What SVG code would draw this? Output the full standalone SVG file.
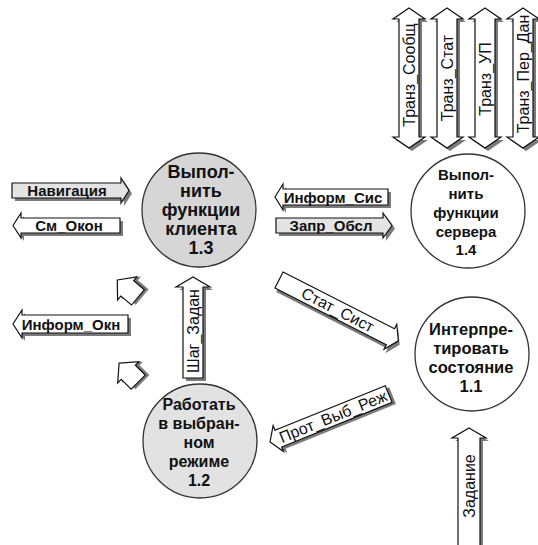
<svg xmlns="http://www.w3.org/2000/svg" xmlns:xlink="http://www.w3.org/1999/xlink" width="538" height="545" viewBox="0 0 538 545">
<style>
.bg{fill:#fff}
.node{stroke:#333;stroke-width:1.3}
.white{fill:#fff}
.grey{fill:#d6d6d6}
.grey2{fill:#e2e2e2}
.ntext{font-family:"Liberation Sans",Arial,sans-serif;font-weight:bold;fill:#111;text-anchor:middle}
.arr{stroke:#111;stroke-width:1.2;stroke-linejoin:miter}
.shadow{fill:#7a7a7a;stroke:none}
.afill{fill:#fff}
.afill2{fill:#e4e4e4}
.lbl{font-family:"Liberation Sans",Arial,sans-serif;fill:#111;text-anchor:middle;font-size:16px}
.lblb{font-family:"Liberation Sans",Arial,sans-serif;fill:#111;text-anchor:middle;font-size:15px;font-weight:bold}
</style>
<defs>
<path id="vdbl" d="M0,8 L16,19 H10 V137 H16 L0,148 L-16,137 H-10 V19 H-16 Z"/>
<path id="small" d="M0,-14 L15,-1 H10 V13 H-10 V-1 H-15 Z"/>
<path id="pNav" d="M12,183 H121 V178 L129,190.5 L121,203 V198 H12 Z"/>
<path id="pSm" d="M13,225.5 L21,213 V218 H120 V233 H21 V238 Z"/>
<path id="pIS" d="M275,197 L283,184 V189 H388 V205 H283 V210 Z"/>
<path id="pZO" d="M276,218 H383 V213 L392,225.5 L383,238 V233 H276 Z"/>
<path id="pIO" d="M13,324 L22,310 V315 H128 V333 H22 V338 Z"/>
<path id="pSZ" d="M193,277 L210,287 H203 V378 H183 V287 H176 Z"/>
<path id="pZad" d="M469,428 L486,438 H480 V548 H458 V438 H452 Z"/>
<path id="pSS" d="M0,-9 H125 V-14 L134,0 L125,14 V9 H0 Z"/>
<path id="pPV" d="M0,0 L9,-14 V-9 H128 V9 H9 V14 Z"/>
</defs>
<rect class="bg" x="0" y="0" width="538" height="545"/>

<g id="node-1-3">
<circle class="node grey" cx="199" cy="210" r="57"/>
<text class="ntext" font-size="18" x="201" y="178">Выпол-</text>
<text class="ntext" font-size="18" x="201" y="197">нить</text>
<text class="ntext" font-size="18" x="201" y="216">функции</text>
<text class="ntext" font-size="18" x="201" y="235">клиента</text>
<text class="ntext" font-size="18" x="201" y="254">1.3</text>
</g>

<g id="node-1-4">
<circle class="node white" cx="468" cy="211" r="57"/>
<text class="ntext" font-size="15" x="466" y="180">Выпол-</text>
<text class="ntext" font-size="15" x="466" y="199">нить</text>
<text class="ntext" font-size="15" x="466" y="218">функции</text>
<text class="ntext" font-size="15" x="466" y="237">сервера</text>
<text class="ntext" font-size="15" x="466" y="255">1.4</text>
</g>

<g id="node-1-1">
<circle class="node white" cx="472" cy="354" r="57"/>
<text class="ntext" font-size="16.5" x="471" y="335">Интерпре-</text>
<text class="ntext" font-size="16.5" x="471" y="354">тировать</text>
<text class="ntext" font-size="16.5" x="471" y="373">состояние</text>
<text class="ntext" font-size="16.5" x="471" y="392">1.1</text>
</g>

<g id="node-1-2">
<circle class="node grey2" cx="200" cy="441" r="57"/>
<text class="ntext" font-size="16" x="199" y="410">Работать</text>
<text class="ntext" font-size="16" x="199" y="429">в выбран-</text>
<text class="ntext" font-size="16" x="199" y="448">ном</text>
<text class="ntext" font-size="16" x="199" y="467">режиме</text>
<text class="ntext" font-size="16" x="199" y="486">1.2</text>
</g>

<g id="connectors">
<g id="c-tranz-soobsch">
<use href="#vdbl" x="412" y="3" class="shadow"/>
<use href="#vdbl" x="409" y="0" class="arr afill"/>
<text class="lbl" transform="translate(414.5,75) rotate(-90)">Транз_Сообщ</text>
</g>
<g id="c-tranz-stat">
<use href="#vdbl" x="450" y="3" class="shadow"/>
<use href="#vdbl" x="447" y="0" class="arr afill"/>
<text class="lbl" transform="translate(452.5,78) rotate(-90)">Транз_Стат</text>
</g>
<g id="c-tranz-up">
<use href="#vdbl" x="488" y="3" class="shadow"/>
<use href="#vdbl" x="485" y="0" class="arr afill"/>
<text class="lbl" transform="translate(490.5,79) rotate(-90)">Транз_УП</text>
</g>
<g id="c-tranz-per-dan">
<use href="#vdbl" x="526" y="3" class="shadow"/>
<use href="#vdbl" x="523" y="0" class="arr afill"/>
<text class="lbl" transform="translate(528.5,74) rotate(-90)">Транз_Пер_Дан</text>
</g>

<g id="c-navigacia">
<use href="#pNav" x="3" y="3" class="shadow"/>
<use href="#pNav" class="arr afill2"/>
<text class="lblb" x="67" y="196">Навигация</text>
</g>
<g id="c-sm-okon">
<use href="#pSm" x="3" y="3" class="shadow"/>
<use href="#pSm" class="arr afill"/>
<text class="lblb" x="69" y="231">См_Окон</text>
</g>
<g id="c-inform-sis">
<use href="#pIS" x="3" y="3" class="shadow"/>
<use href="#pIS" class="arr afill"/>
<text class="lblb" x="333" y="202.5">Информ_Сис</text>
</g>
<g id="c-zapr-obsl">
<use href="#pZO" x="3" y="3" class="shadow"/>
<use href="#pZO" class="arr afill2"/>
<text class="lblb" x="331" y="231">Запр_Обсл</text>
</g>
<g id="c-inform-okn">
<use href="#pIO" x="3" y="3" class="shadow"/>
<use href="#pIO" class="arr afill"/>
<text class="lblb" x="71" y="329.5">Информ_Окн</text>
</g>
<g id="c-small-1">
<g transform="translate(128,289) rotate(-50)">
<use href="#small" x="3" y="3" class="shadow"/>
<use href="#small" class="arr afill"/>
</g>
</g>
<g id="c-small-2">
<g transform="translate(129,373) rotate(-45)">
<use href="#small" x="3" y="3" class="shadow"/>
<use href="#small" class="arr afill"/>
</g>
</g>
<g id="c-shag-zadan">
<use href="#pSZ" x="3" y="3" class="shadow"/>
<use href="#pSZ" class="arr afill"/>
<text class="lbl" transform="translate(198.5,331) rotate(-90)">Шаг_Задан</text>
</g>
<g id="c-zadanie">
<use href="#pZad" x="3" y="3" class="shadow"/>
<use href="#pZad" class="arr afill"/>
<text class="lbl" transform="translate(475,486) rotate(-90)">Задание</text>
</g>
<g id="c-stat-sist" transform="translate(279,280) rotate(27)">
<use href="#pSS" x="3" y="3" class="shadow"/>
<use href="#pSS" class="arr afill"/>
<text class="lbl" x="66" y="5.5">Стат_Сист</text>
</g>
<g id="c-prot-vyb-rezh" transform="translate(270,442) rotate(-22)">
<use href="#pPV" x="3" y="3" class="shadow"/>
<use href="#pPV" class="arr afill"/>
<text class="lbl" x="68" y="5.5">Прот_Выб_Реж</text>
</g>
</g>
</svg>
